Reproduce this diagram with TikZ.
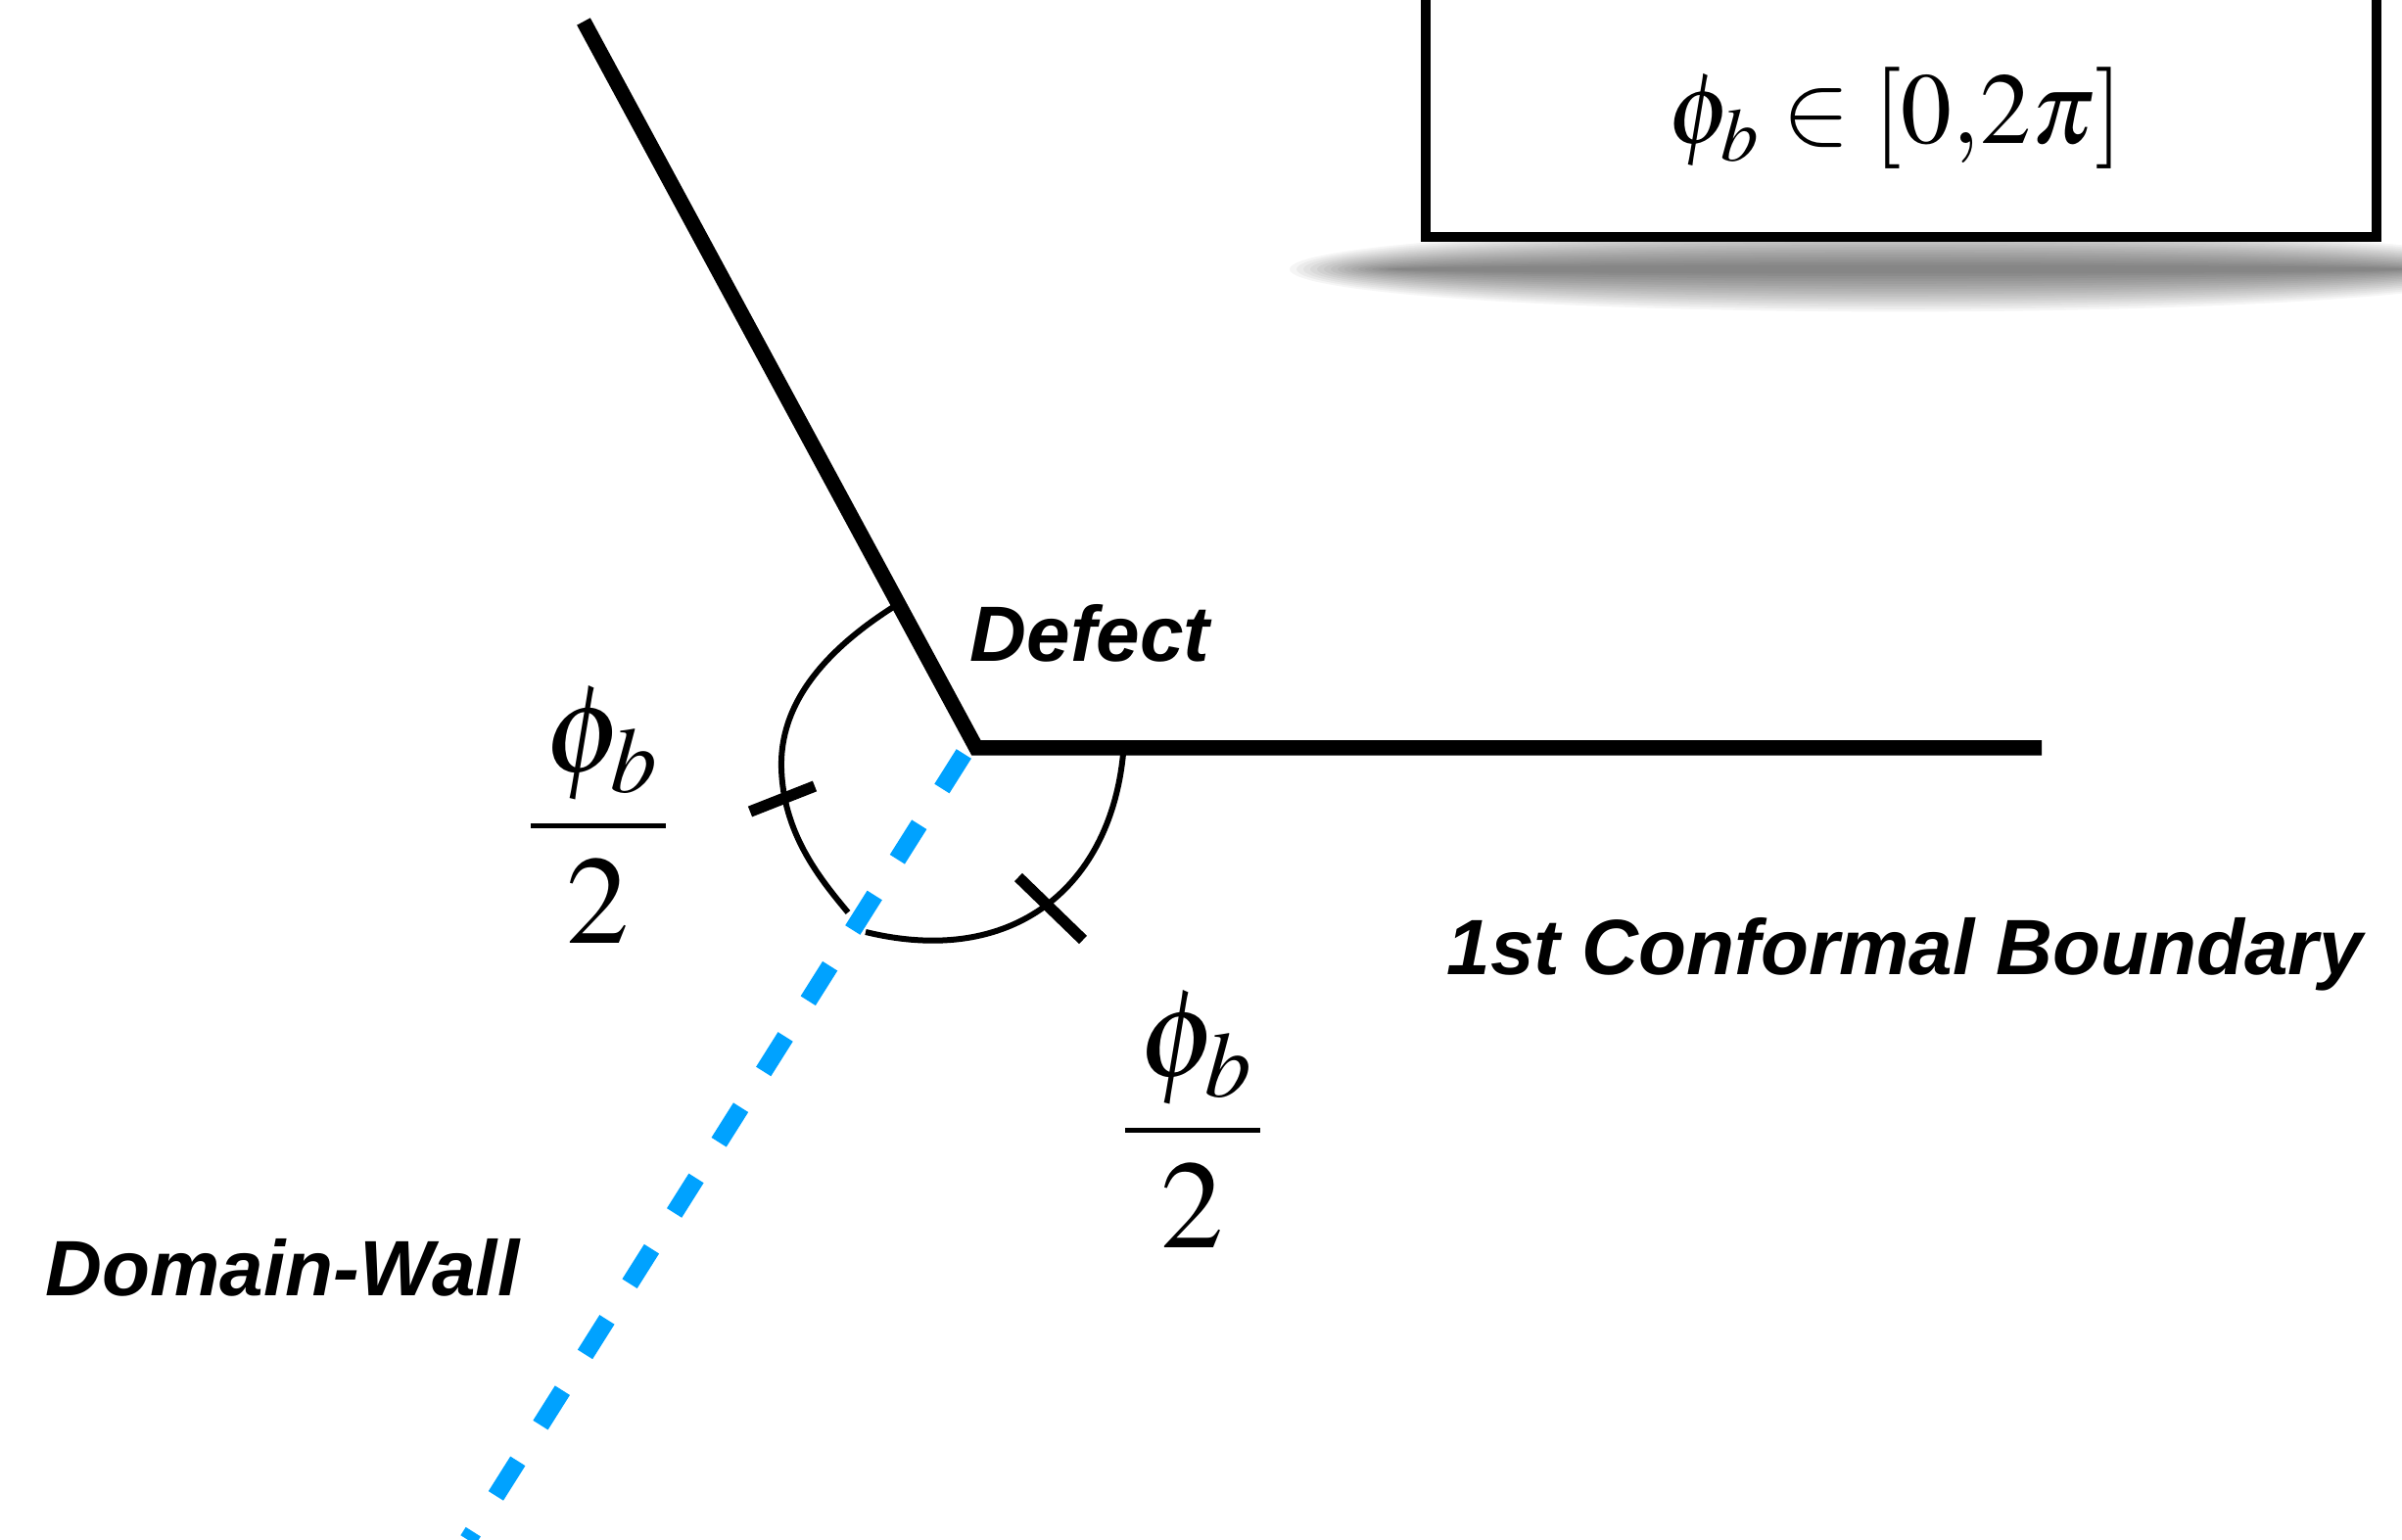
\documentclass[tikz,border=0pt]{standalone}
\usepackage{mathptmx}
\usepackage[no-math]{fontspec}
\setsansfont{Liberation Sans}
\usetikzlibrary{positioning,calc}
\definecolor{wallblue}{HTML}{00A2FF}
\tikzset{bnd/.style={line width=1.55mm,draw=black},wall/.style={line width=1.8mm,draw=wallblue,dash pattern=on 4.2mm off 4.34mm},angarc/.style={line width=0.6mm},tick/.style={line width=1.15mm},lbl/.style={font=\sffamily\bfseries\itshape\fontsize{22.8}{27}\selectfont,inner sep=0pt},half/.style={font=\fontsize{36.5}{44}\selectfont,inner sep=0pt}}

\begin{document}
\begin{tikzpicture}
\useasboundingbox (0,0) rectangle (24.53,15.73);
\clip (0,0) rectangle (24.53,15.73);
% shadow under the range box
\foreach \i in {1,...,16}
  \fill[black,opacity=0.038] (19.40,12.98) ellipse ({6.3-0.07*\i} and {0.46-0.026*\i});
\node[draw,line width=1mm,fill=white,minimum width=9.71cm,minimum height=3.2cm,anchor=south west,inner sep=0pt] (range) at (14.51,13.26) {};
\node[font=\fontsize{29.5}{35}\selectfont,inner sep=0pt] (rangetxt) at (19.36,14.52) {$\phi_b \in [0{,}2\pi]$};

\coordinate (defect) at (9.97,8.09);
\coordinate (top) at (5.96,15.51);
\coordinate (bend) at (20.85,8.09);
\coordinate (w0) at (9.843,8.03);
\coordinate (w1) at (4.78,0);
\draw[bnd] (top) -- (defect) -- (bend);
\draw[wall] (w0) -- (w1);

% angle arcs with ticks
\draw[angarc] (9.17,9.56) .. controls (8.40,9.08) and (7.96,8.53) .. (7.98,7.88) .. controls (8.00,7.23) and (8.35,6.78) .. (8.66,6.41);
\draw[angarc] (11.48,8.16) .. controls (11.40,6.73) and (10.40,5.83) .. (8.84,6.21);
\draw[tick] (7.66,7.44) -- (8.32,7.70);
\draw[tick] (10.40,6.77) -- (11.06,6.13);

\node[lbl,anchor=base west] (defectlbl) at (9.90,8.97) {Defect};
\node[lbl,anchor=base west] (bndlbl) at (14.77,5.77) {1st Conformal Boundary};
\node[lbl,anchor=base west] (walllbl) at (0.46,2.49) {Domain-Wall};
\node[half] (halfl) at (6.11,7.40) {$\displaystyle\frac{\mkern2mu\phi_b\mkern1mu}{2}$};
\node[half] (halfr) at (12.18,4.29) {$\displaystyle\frac{\mkern2mu\phi_b\mkern1mu}{2}$};
\end{tikzpicture}
\end{document}
